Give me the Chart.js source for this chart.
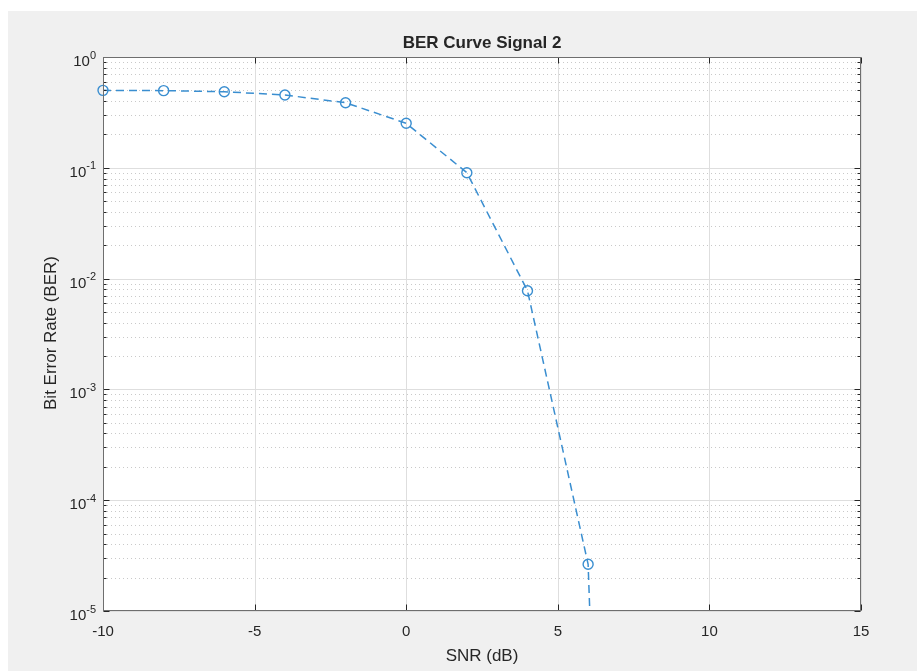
<!DOCTYPE html>
<html>
<head>
<meta charset="utf-8">
<script src="https://cdn.jsdelivr.net/npm/chart.js@4.4.1/dist/chart.umd.min.js"></script>
<style>
  html, body { margin: 0; padding: 0; background: #ffffff; overflow: hidden; }
  #wrap { width: 917px; height: 671px; }
</style>
</head>
<body>
<div id="wrap"><canvas id="c" width="917" height="671"></canvas></div>
<script>
// ---- data ----
const snrDb = [-10, -8, -6, -4, -2, 0, 2, 4, 6, 8];
const berValues = [0.5, 0.497, 0.486, 0.454, 0.387, 0.252, 0.0903, 0.00778, 2.64e-5, 1e-20];
const xTickValues = [-10, -5, 0, 5, 10, 15];
const yTickExponents = [0, -1, -2, -3, -4, -5];
const chartTitle = 'BER Curve Signal 2';
const xAxisLabel = 'SNR (dB)';
const yAxisLabel = 'Bit Error Rate (BER)';

const W = 917, H = 671;
const FONT = '"Liberation Sans", Arial, Helvetica, sans-serif';
const TEXT = '#262626';

const points = snrDb.map((x, i) => ({ x: x, y: berValues[i] }));

const decoPlugin = {
  id: 'deco',
  beforeDraw(chart) {
    const { ctx, chartArea: a } = chart;
    ctx.save();
    ctx.fillStyle = '#ffffff';
    ctx.fillRect(0, 0, W, H);
    ctx.fillStyle = '#f0f0f0';
    ctx.fillRect(8, 11, W - 8, H - 11);
    ctx.fillStyle = '#ffffff';
    ctx.fillRect(a.left, a.top, a.right - a.left, a.bottom - a.top);
    ctx.restore();
  },
  beforeDatasetsDraw(chart) {
    const { ctx, chartArea: a, scales } = chart;
    const xs = scales.x, ys = scales.y;
    ctx.save();
    ctx.lineWidth = 1;
    // minor dotted y grid
    ctx.strokeStyle = '#c9c9c9';
    ctx.setLineDash([1, 3]);
    for (const e of yTickExponents) {
      if (e === 0) continue;
      for (let k = 2; k <= 9; k++) {
        const py = Math.round(ys.getPixelForValue(k * Math.pow(10, e))) + 0.5;
        ctx.beginPath();
        ctx.moveTo(a.left, py);
        ctx.lineTo(a.right, py);
        ctx.stroke();
      }
    }
    ctx.setLineDash([]);
    // major solid grid
    ctx.strokeStyle = '#dedede';
    for (const e of yTickExponents) {
      const py = Math.round(ys.getPixelForValue(Math.pow(10, e))) + 0.5;
      ctx.beginPath();
      ctx.moveTo(a.left, py);
      ctx.lineTo(a.right, py);
      ctx.stroke();
    }
    for (const v of xTickValues) {
      const px = Math.round(xs.getPixelForValue(v)) + 0.5;
      ctx.beginPath();
      ctx.moveTo(px, a.top);
      ctx.lineTo(px, a.bottom);
      ctx.stroke();
    }
    ctx.restore();
  },
  afterDraw(chart) {
    const { ctx, chartArea: a, scales } = chart;
    const xs = scales.x, ys = scales.y;
    const L = Math.round(a.left) + 0.5, R = Math.round(a.right) - 0.5;
    const T = Math.round(a.top) + 0.5, B = Math.round(a.bottom) - 0.5;
    ctx.save();
    // ticks (inward, both sides)
    ctx.strokeStyle = '#262626';
    ctx.lineWidth = 1;
    for (const v of xTickValues) {
      const px = Math.round(xs.getPixelForValue(v)) + 0.5;
      ctx.beginPath();
      ctx.moveTo(px, B); ctx.lineTo(px, B - 6);
      ctx.moveTo(px, T); ctx.lineTo(px, T + 6);
      ctx.stroke();
    }
    for (const e of yTickExponents) {
      const py = Math.round(ys.getPixelForValue(Math.pow(10, e))) + 0.5;
      ctx.beginPath();
      ctx.moveTo(L, py); ctx.lineTo(L + 6, py);
      ctx.moveTo(R, py); ctx.lineTo(R - 6, py);
      ctx.stroke();
      if (e === 0) continue;
      for (let k = 2; k <= 9; k++) {
        const pm = Math.round(ys.getPixelForValue(k * Math.pow(10, e))) + 0.5;
        ctx.beginPath();
        ctx.moveTo(L, pm); ctx.lineTo(L + 3, pm);
        ctx.moveTo(R, pm); ctx.lineTo(R - 3, pm);
        ctx.stroke();
      }
    }
    // box
    ctx.strokeStyle = '#6e6e6e';
    ctx.strokeRect(L, T, R - L, B - T);

    // x tick labels
    ctx.fillStyle = TEXT;
    ctx.font = '15px ' + FONT;
    ctx.textAlign = 'center';
    ctx.textBaseline = 'alphabetic';
    for (const v of xTickValues) {
      const px = xs.getPixelForValue(v);
      ctx.fillText(String(v), px, a.bottom + 24.5);
    }
    // y tick labels 10^e
    for (const e of yTickExponents) {
      const py = ys.getPixelForValue(Math.pow(10, e));
      const sup = String(e);
      ctx.font = '11px ' + FONT;
      const supW = ctx.measureText(sup).width;
      ctx.font = '15px ' + FONT;
      const baseW = ctx.measureText('10').width;
      const right = a.left - 7;
      ctx.textAlign = 'left';
      ctx.font = '15px ' + FONT;
      ctx.fillText('10', right - supW - baseW, py + 9);
      ctx.font = '11px ' + FONT;
      ctx.fillText(sup, right - supW, py + 1.5);
    }
    // title
    ctx.textAlign = 'center';
    ctx.font = 'bold 17px ' + FONT;
    ctx.fillText(chartTitle, (a.left + a.right) / 2, 48);
    // x label
    ctx.font = '17px ' + FONT;
    ctx.fillText(xAxisLabel, (a.left + a.right) / 2, 661);
    // y label
    ctx.save();
    ctx.translate(56, (a.top + a.bottom) / 2 - 1);
    ctx.rotate(-Math.PI / 2);
    ctx.fillText(yAxisLabel, 0, 0);
    ctx.restore();
    ctx.restore();
  }
};

new Chart(document.getElementById('c'), {
  type: 'line',
  data: {
    datasets: [{
      label: 'BER',
      data: points,
      borderColor: '#3a8ed0',
      borderWidth: 1.5,
      borderDash: [8, 5],
      pointStyle: 'circle',
      pointRadius: 5,
      pointBorderWidth: 1.4,
      pointBorderColor: '#3a8ed0',
      pointBackgroundColor: 'rgba(255,255,255,0)',
      pointHoverRadius: 5,
      tension: 0,
      fill: false,
      clip: { left: 10, top: 10, right: 10, bottom: 0 }
    }]
  },
  options: {
    responsive: false,
    animation: false,
    devicePixelRatio: 1,
    events: [],
    layout: { padding: { left: 103, top: 57, right: 56, bottom: 60 } },
    plugins: {
      legend: { display: false },
      title: { display: false },
      tooltip: { enabled: false }
    },
    scales: {
      x: { type: 'linear', min: -10, max: 15, display: false },
      y: { type: 'logarithmic', min: 1e-5, max: 1, display: false }
    }
  },
  plugins: [decoPlugin]
});
</script>
</body>
</html>
